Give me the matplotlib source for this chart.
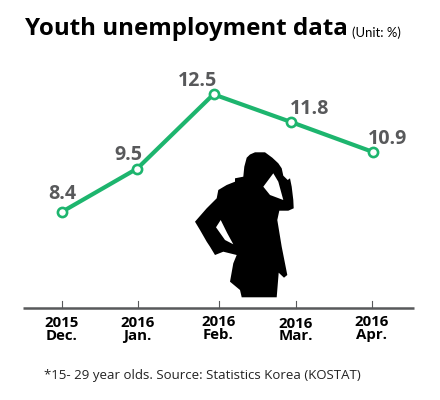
import numpy as np
import matplotlib
matplotlib.use("Agg")
import matplotlib.pyplot as plt
from matplotlib.path import Path
from matplotlib.patches import PathPatch

months = ["2015\nDec.", "2016\nJan.", "2016\nFeb.", "2016\nMar.", "2016\nApr."]
rates = [8.4, 9.5, 12.5, 11.8, 10.9]
labels = ["8.4", "9.5", "12.5", "11.8", "10.9"]

# The source graphic's vertical scale is uneven: value -> height in px from the bottom
scale_values = [0, 8.4, 9.5, 10.9, 11.8, 12.5, 20]
scale_heights = [0, 188, 231.5, 248, 278, 305.7, 400]
point_x = [61.7, 137.3, 213.5, 291, 373]
tick_x = [61.5, 137.5, 218.5, 296, 371.5]
month_y = [329.3, 329.3, 328.3, 329.8, 328.3]
label_offset = [(1, -18), (-9, -14), (-16, -13), (19, -13), (15, -13)]

GREEN = "#1DB56E"
GREY = "#58595B"
FONT = "Open Sans"

def fwd(v):
    return np.interp(v, scale_values, scale_heights)

def inv(h):
    return np.interp(h, scale_heights, scale_values)

fig = plt.figure(figsize=(4.4, 4.0), dpi=100)
ax = fig.add_axes([0, 0, 1, 1])
ax.set_yscale("function", functions=(fwd, inv))
ax.set_xlim(0, 440)
ax.set_ylim(0, 20)
ax.axis("off")

# Pixel overlay for the silhouette, axis rule and free-standing text
ov = fig.add_axes([0, 0, 1, 1], zorder=0)
ov.set_xlim(0, 440)
ov.set_ylim(400, 0)
ov.axis("off")
outline = [(244.3,166.7),(246.7,157.7),(250,154.5),(255,152.3),(265,152.3),(272.3,157.7),(278.3,163.3),
           (281.7,168.3),(283.3,175.7),(287.7,180),(290,178.3),(291.7,186.7),(293.3,200),(293.7,208.3),
           (288.3,210.7),(279.3,210.7),(277.3,220),(281.7,246.7),(287.3,275),(284,277.7),(278.7,272.7),
           (276.7,297.3),(241.7,297.3),(240,290),(230,281.7),(233.3,263.3),(236.7,255),(223.3,251.7),
           (215,255),(210,246.7),(206.7,241.7),(200,230),(195,221.7),(206.7,208.3),(216.7,198.3),
           (218.3,190),(226.7,185),(235,181.7),(235,178.3),(243.3,176.7)]
arm_gap = [(273.3,173.3),(263.3,186.7),(270,195),(283.3,200),(278.3,181.7)]
hip_gap = [(220.7,220),(216,227.3),(225,240),(233.3,244.3),(227.3,233.3)]
verts, codes = [], []
for ring in (outline, arm_gap, hip_gap):
    verts += ring + [ring[0]]
    codes += [Path.MOVETO] + [Path.LINETO] * (len(ring) - 1) + [Path.CLOSEPOLY]
ov.add_patch(PathPatch(Path(verts, codes), fc="black", ec="none"))

# Axis
ov.plot([23, 414], [308, 308], color=GREY, lw=1.8, solid_capstyle="butt")
for t, m, y in zip(tick_x, months, month_y):
    ov.plot([t, t], [301, 308], color=GREY, lw=0.8)
    ov.text(t, y, m, ha="center", va="center", fontsize=10.8, fontweight="bold",
            family=FONT, color="black", linespacing=0.86)

# Line
ax.set_zorder(2)
ax.plot(point_x, rates, color=GREEN, lw=3.0, marker="o", ms=6.6, mfc="white", mec=GREEN, mew=1.9,
        solid_joinstyle="miter")
for x, r, l, o in zip(point_x, rates, labels, label_offset):
    ax.annotate(l, (x, r), xytext=(o[0] * 0.72, -o[1] * 0.72), textcoords="offset points", ha="center",
                va="center", fontsize=14.1, fontweight="bold", family=FONT, color=GREY)

ov.text(25, 29, "Youth unemployment data", ha="left", va="center", fontsize=17.4,
        fontweight="bold", family=FONT, color="black")
ov.text(352, 33, "(Unit: %)", ha="left", va="center", fontsize=9.4, family="Lato", color="black")
ov.text(44, 376, "*15- 29 year olds. Source: Statistics Korea (KOSTAT)", ha="left", va="center",
        fontsize=9.5, family=FONT, color="#222222")

fig.savefig("out.png", dpi=100, facecolor="white")
